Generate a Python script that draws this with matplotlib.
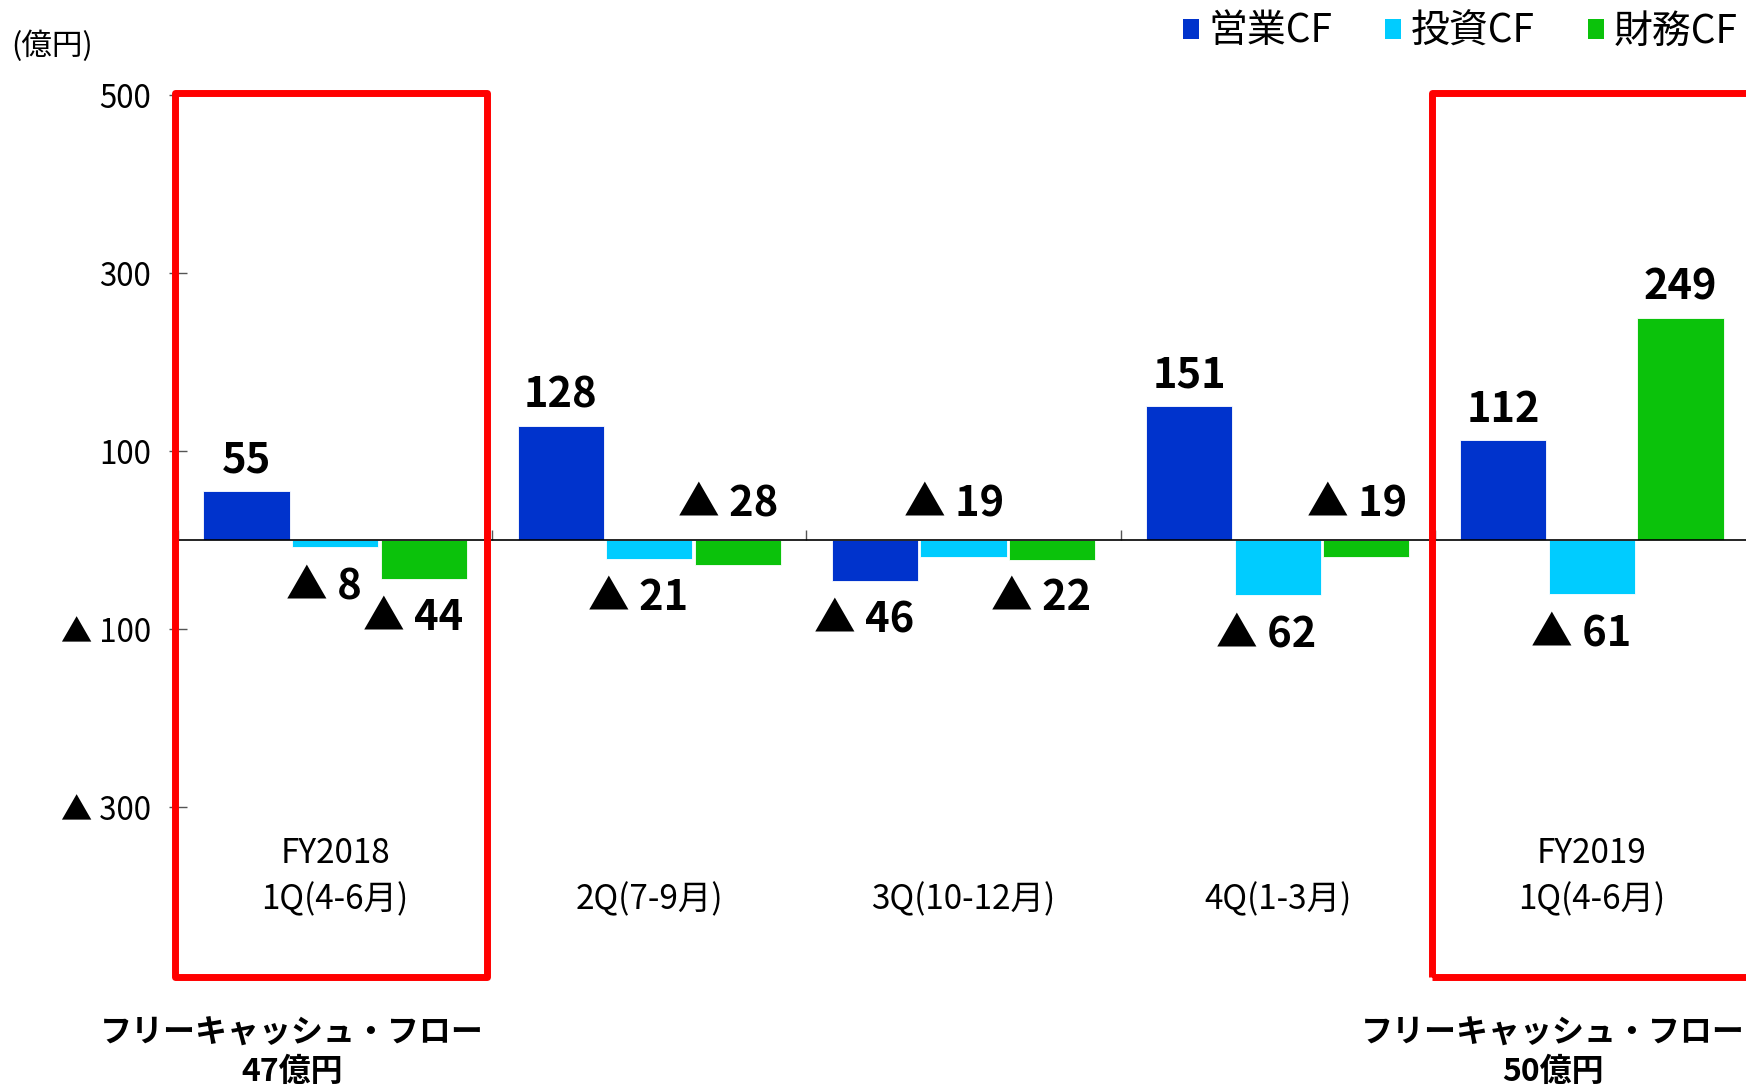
import matplotlib.pyplot as plt
from matplotlib.patches import Patch, Rectangle
import numpy as np

plt.rcParams['font.family'] = ['Noto Sans CJK JP', 'DejaVu Sans']

# data (億円)
fy_labels = ["FY2018", "", "", "", "FY2019"]
quarters = ["1Q(4-6月)", "2Q(7-9月)", "3Q(10-12月)", "4Q(1-3月)", "1Q(4-6月)"]
series_names = ["営業CF", "投資CF", "財務CF"]
operating = [55, 128, -46, 151, 112]
investing = [-8, -21, -19, -62, -61]
financing = [-44, -28, -22, -19, 249]
# where the label of a bar goes: 'end' = beyond the bar end, 'zero' = above the zero line
operating_lbl = ['end', 'end', 'end', 'end', 'end']
investing_lbl = ['end', 'end', 'zero', 'end', 'end']
financing_lbl = ['end', 'zero', 'end', 'zero', 'end']
yticks = [500, 300, 100, -100, -300]
highlight = [0, 4]
fcf_text = ["47", "50"]

colors = ["#0033CC", "#00CCFF", "#0BC20B"]

fig = plt.figure(figsize=(17.46, 10.86), dpi=100)
ax = fig.add_axes([178 / 1746, 101 / 1086, (1749 - 178) / 1746, 890 / 1086])

x = np.arange(len(quarters)) + 0.5
offsets = [-0.282, 0.0, 0.282]
width = 0.274

all_vals = [operating, investing, financing]
all_lbl = [operating_lbl, investing_lbl, financing_lbl]

for vals, lbls, off, col in zip(all_vals, all_lbl, offsets, colors):
    bars = ax.bar(x + off, vals, width, color=col, edgecolor='white', linewidth=0.6, zorder=2)
    for b, v, where in zip(bars, vals, lbls):
        cx = b.get_x() + b.get_width() / 2
        if v >= 0:
            txt, ybase, dx, dy = str(v), v, 0, 22
        elif where == 'zero':
            txt, ybase, dx, dy = "▲ " + str(-v), 0, -7, 26
        else:
            txt, ybase, dx, dy = "▲ " + str(-v), v, -8, -28
        ax.annotate(txt, (cx, ybase), xytext=(dx, dy), textcoords='offset points',
                    ha='center', va='center', fontsize=30, fontweight='bold', zorder=4)

ax.set_xlim(0, 5)
ax.set_ylim(-500, 500)

# zero line with small tick marks between quarters
for s in ['top', 'right', 'left']:
    ax.spines[s].set_visible(False)
ax.spines['bottom'].set_position(('data', 0))
ax.spines['bottom'].set_linewidth(1.2)
ax.spines['bottom'].set_zorder(3)
ax.set_xticks(np.arange(len(quarters) + 1))
ax.tick_params(axis='x', direction='in', length=7, width=1, color='#555555', labelbottom=False)

ax.set_yticks(yticks)
ax.set_yticklabels([str(t) if t > 0 else "▲ " + str(-t) for t in yticks])
ax.tick_params(axis='y', direction='inout', length=13, width=1, color='#555555',
               labelsize=22.5, pad=13)

# category labels
for xi, fy, q in zip(x, fy_labels, quarters):
    ax.text(xi, -404, q, ha='center', va='center', fontsize=24)
    if fy:
        ax.text(xi, -352, fy, ha='center', va='center', fontsize=24)

# red highlight boxes
for i in highlight:
    ax.add_patch(Rectangle((i - 0.009, -491), 0.993 if i == 0 else 1.05, 993, fill=False,
                           edgecolor='#FF0000', linewidth=5, joinstyle='round',
                           clip_on=False, zorder=5))

for fx, val in zip([292, 1553], fcf_text):
    fig.text(fx / 1746, 1 - 1053 / 1086, "フリーキャッシュ・フロー\n" + val + "億円",
             ha='center', va='center', fontsize=23, fontweight='bold', linespacing=1.25)

fig.text(11 / 1746, 1 - 46 / 1086, "(億円)", ha='left', va='center', fontsize=22)

handles = [Patch(facecolor=c, edgecolor='none') for c in colors]
fig.legend(handles, series_names, loc='upper right', bbox_to_anchor=(0.9975, 0.993), ncol=3,
           frameon=False, fontsize=28, handlelength=0.42, handleheight=0.42,
           handletextpad=0.25, columnspacing=1.35, borderaxespad=0, borderpad=0.1)

fig.savefig("out.png", dpi=100)
